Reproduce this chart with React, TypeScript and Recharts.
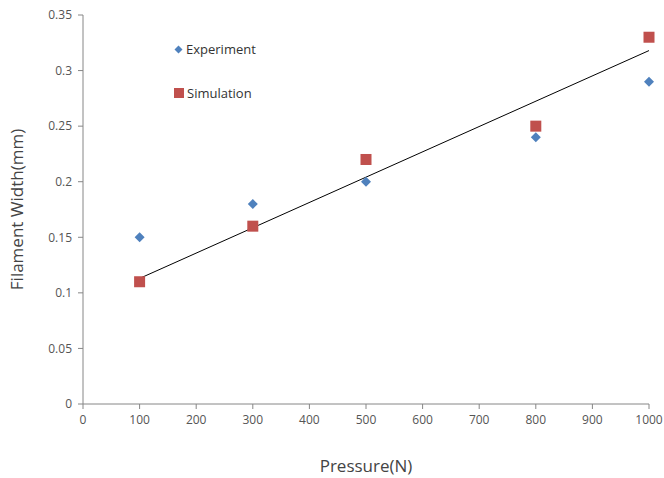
import { ComposedChart, Scatter, XAxis, YAxis } from "recharts";

const pressure = [100, 300, 500, 800, 1000];
const experiment = [0.15, 0.18, 0.2, 0.24, 0.29];
const simulation = [0.11, 0.16, 0.22, 0.25, 0.33];
const trendX = [100, 1000];
const trendY = [0.113, 0.318];
const xTicks = [0, 100, 200, 300, 400, 500, 600, 700, 800, 900, 1000];
const yTicks = [0, 0.05, 0.1, 0.15, 0.2, 0.25, 0.3, 0.35];

const expData = pressure.map((x, i) => ({ x, y: experiment[i] }));
const simData = pressure.map((x, i) => ({ x, y: simulation[i] }));
const trendData = trendX.map((x, i) => ({ x, y: trendY[i] }));

const BLUE = "#4f81bd";
const RED = "#c0504d";
const font = "'Open Sans', 'DejaVu Sans', sans-serif";

interface ShapeProps {
	cx?: number;
	cy?: number;
}

function Diamond({ cx = 0, cy = 0 }: ShapeProps) {
	const r = 5;
	return (
		<path
			d={`M${cx},${cy - r}L${cx + r},${cy}L${cx},${cy + r}L${cx - r},${cy}Z`}
			fill={BLUE}
		/>
	);
}

function Square({ cx = 0, cy = 0 }: ShapeProps) {
	const r = 5.5;
	return <rect x={cx - r} y={cy - r} width={r * 2} height={r * 2} fill={RED} />;
}

function LegendBox() {
	return (
		<div
			style={{
				position: "absolute",
				left: 174,
				top: 39,
				fontFamily: font,
				fontSize: 13,
				color: "#333",
			}}
		>
			<div style={{ display: "flex", alignItems: "center", height: 20 }}>
				<svg width={9} height={9} style={{ marginRight: 3 }}>
					<path d="M4.5,0.5L8.5,4.5L4.5,8.5L0.5,4.5Z" fill={BLUE} />
				</svg>
				Experiment
			</div>
			<div style={{ display: "flex", alignItems: "center", height: 20, marginTop: 24 }}>
				<svg width={10} height={10} style={{ marginRight: 3 }}>
					<rect x={0} y={0} width={10} height={10} fill={RED} />
				</svg>
				Simulation
			</div>
		</div>
	);
}

export default function App() {
	return (
		<div style={{ position: "absolute", left: 0, top: 0, width: 664, height: 478, background: "#fff" }}>
			<ComposedChart
				width={664}
				height={478}
				margin={{ top: 15, right: 15, bottom: 34, left: 20 }}
			>
				<XAxis
					type="number"
					dataKey="x"
					domain={[0, 1000]}
					ticks={xTicks}
					interval={0}
					stroke="#868686"
					tickSize={5}
					tick={{ fill: "#555", fontSize: 12, fontFamily: font }}
					tickMargin={6}
					height={40}
					label={{
						value: "Pressure(N)",
						position: "insideBottom",
						offset: -28,
						fill: "#444",
						fontSize: 17,
						fontFamily: font,
					}}
				/>
				<YAxis
					type="number"
					dataKey="y"
					domain={[0, 0.35]}
					ticks={yTicks}
					interval={0}
					stroke="#868686"
					tickSize={5}
					tick={{ fill: "#555", fontSize: 12, fontFamily: font }}
					tickMargin={6}
					width={63}
					label={{
						value: "Filament Width(mm)",
						angle: -90,
						position: "insideLeft",
						offset: -3,
						fill: "#444",
						fontSize: 17,
						fontFamily: font,
						style: { textAnchor: "middle" },
					}}
				/>
				<Scatter
					data={trendData}
					line={{ stroke: "#000", strokeWidth: 1 }}
					shape={() => null}
					legendType="none"
					isAnimationActive={false}
				/>
				<Scatter data={expData} name="Experiment" shape={<Diamond />} isAnimationActive={false} />
				<Scatter data={simData} name="Simulation" shape={<Square />} isAnimationActive={false} />
			</ComposedChart>
			<LegendBox />
		</div>
	);
}
